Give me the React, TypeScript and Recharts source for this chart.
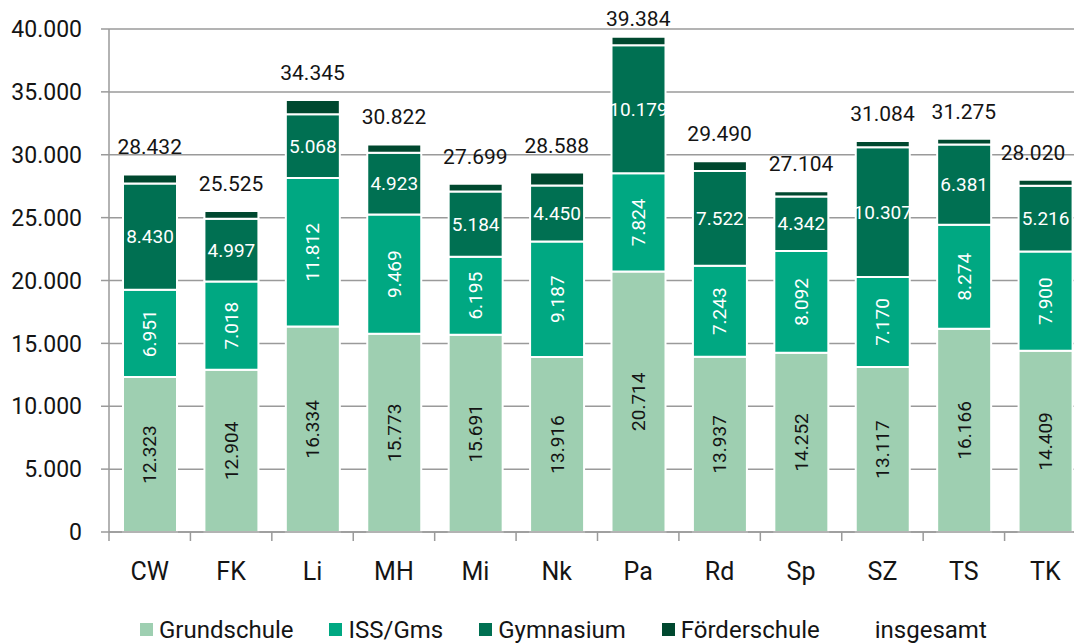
import React from "react";
import {
  ComposedChart,
  Bar,
  Line,
  XAxis,
  YAxis,
  CartesianGrid,
  Legend,
  LabelList,
} from "recharts";

const categories = ["CW", "FK", "Li", "MH", "Mi", "Nk", "Pa", "Rd", "Sp", "SZ", "TS", "TK"];
const grundschule = [12323, 12904, 16334, 15773, 15691, 13916, 20714, 13937, 14252, 13117, 16166, 14409];
const issGms = [6951, 7018, 11812, 9469, 6195, 9187, 7824, 7243, 8092, 7170, 8274, 7900];
const gymnasium = [8430, 4997, 5068, 4923, 5184, 4450, 10179, 7522, 4342, 10307, 6381, 5216];
const foerderschule = [728, 606, 1131, 657, 629, 1035, 667, 788, 418, 490, 454, 495];
const insgesamt = [28432, 25525, 34345, 30822, 27699, 28588, 39384, 29490, 27104, 31084, 31275, 28020];
const yTicks = [0, 5000, 10000, 15000, 20000, 25000, 30000, 35000, 40000];

const seriesNames = ["Grundschule", "ISS/Gms", "Gymnasium", "Förderschule", "insgesamt"];
const seriesColors = ["#9ecfb1", "#00a882", "#007052", "#00482f", "transparent"];

const data = categories.map((name, i) => ({
  name,
  grundschule: grundschule[i],
  issGms: issGms[i],
  gymnasium: gymnasium[i],
  foerderschule: foerderschule[i],
  insgesamt: insgesamt[i],
}));

const FONT = "Roboto, 'Noto Sans', sans-serif";
const TEXT = "#141414";
const AXIS = "#9a9a9a";

function fmt(n: number | string): string {
  return String(n).replace(/\B(?=(\d{3})+(?!\d))/g, ".");
}

// vertical label, reads bottom-to-top
const verticalLabel = (color: string) => (props: any) => {
  const { x, y, width, height, value } = props;
  const cx = Number(x) + Number(width) / 2;
  const cy = Number(y) + Number(height) / 2;
  return (
    <text
      x={cx}
      y={cy}
      transform={`rotate(-90 ${cx} ${cy})`}
      textAnchor="middle"
      dominantBaseline="central"
      fontSize={19}
      fill={color}
    >
      {fmt(value)}
    </text>
  );
};

const horizontalLabel = (props: any) => {
  const { x, y, width, height, value } = props;
  const cx = Number(x) + Number(width) / 2;
  const cy = Number(y) + Number(height) / 2;
  return (
    <text x={cx} y={cy} textAnchor="middle" dominantBaseline="central" fontSize={19} fill="#fff">
      {fmt(value)}
    </text>
  );
};

// totals sit above the stack, kept inside the picture like Excel does
const totalLabel = (props: any) => {
  const { x, y, value } = props;
  const cx = Math.min(Number(x), 1033);
  const by = Math.max(Number(y) - 20, 26);
  return (
    <text x={cx} y={by} textAnchor="middle" fontSize={21} fill={TEXT}>
      {fmt(value)}
    </text>
  );
};

function CategoryTick(props: any) {
  const { x, y, payload } = props;
  const half = payload && payload.offset ? payload.offset : 40.7;
  const last = payload && payload.index === categories.length - 1;
  return (
    <g>
      <line x1={x - half} y1={y} x2={x - half} y2={y + 9} stroke={AXIS} strokeWidth={1.5} />
      {last && <line x1={x + half} y1={y} x2={x + half} y2={y + 9} stroke={AXIS} strokeWidth={1.5} />}
      <text x={x} y={y + 48} textAnchor="middle" fontSize={25} fill={TEXT}>
        {payload.value}
      </text>
    </g>
  );
}

function renderLegend() {
  return (
    <div
      style={{
        display: "flex",
        alignItems: "center",
        paddingLeft: 140,
        paddingTop: 13,
        height: 40,
        boxSizing: "border-box",
        fontSize: 24,
        color: TEXT,
        fontFamily: FONT,
      }}
    >
      {seriesNames.map((name, i) => (
        <div key={name} style={{ display: "flex", alignItems: "center", marginRight: 36 }}>
          <span
            style={{
              display: "inline-block",
              width: 13,
              height: 13,
              marginRight: 6,
              background: seriesColors[i],
            }}
          />
          <span>{name}</span>
        </div>
      ))}
    </div>
  );
}

export default function App() {
  return (
    <div
      style={{
        position: "absolute",
        left: 0,
        top: 0,
        width: 1074,
        height: 643,
        overflow: "hidden",
        background: "#fff",
        fontFamily: FONT,
      }}
    >
      <ComposedChart
        width={1090}
        height={643}
        data={data}
        margin={{ top: 29, right: 4, left: 0, bottom: 0 }}
        barSize={54}
        style={{ fontFamily: FONT }}
      >
        <CartesianGrid vertical={false} stroke={AXIS} strokeWidth={1.5} />
        <XAxis
          dataKey="name"
          height={71}
          tickSize={0}
          tickMargin={0}
          tickLine={false}
          axisLine={{ stroke: AXIS, strokeWidth: 1.5 }}
          tick={<CategoryTick />}
          interval={0}
        />
        <YAxis
          width={109}
          domain={[0, 40000]}
          ticks={yTicks}
          interval={0}
          tickFormatter={(v: number) => fmt(v)}
          tickSize={8}
          tickMargin={19}
          tickLine={{ stroke: AXIS, strokeWidth: 1.5 }}
          axisLine={{ stroke: AXIS, strokeWidth: 1.5 }}
          tick={{ fill: TEXT, fontSize: 23 }}
        />
        <Legend verticalAlign="bottom" height={40} content={renderLegend} wrapperStyle={{ left: 0, width: 1090 }} />
        <Bar
          dataKey="grundschule"
          name={seriesNames[0]}
          stackId="a"
          fill={seriesColors[0]}
          stroke="#fff"
          strokeWidth={2}
          isAnimationActive={false}
        >
          <LabelList dataKey="grundschule" content={verticalLabel(TEXT)} />
        </Bar>
        <Bar
          dataKey="issGms"
          name={seriesNames[1]}
          stackId="a"
          fill={seriesColors[1]}
          stroke="#fff"
          strokeWidth={2}
          isAnimationActive={false}
        >
          <LabelList dataKey="issGms" content={verticalLabel("#fff")} />
        </Bar>
        <Bar
          dataKey="gymnasium"
          name={seriesNames[2]}
          stackId="a"
          fill={seriesColors[2]}
          stroke="#fff"
          strokeWidth={2}
          isAnimationActive={false}
        >
          <LabelList dataKey="gymnasium" content={horizontalLabel} />
        </Bar>
        <Bar
          dataKey="foerderschule"
          name={seriesNames[3]}
          stackId="a"
          fill={seriesColors[3]}
          stroke="#fff"
          strokeWidth={2}
          isAnimationActive={false}
        />
        <Line
          dataKey="insgesamt"
          name={seriesNames[4]}
          stroke="none"
          dot={false}
          activeDot={false}
          isAnimationActive={false}
        >
          <LabelList dataKey="insgesamt" content={totalLabel} />
        </Line>
      </ComposedChart>
    </div>
  );
}
